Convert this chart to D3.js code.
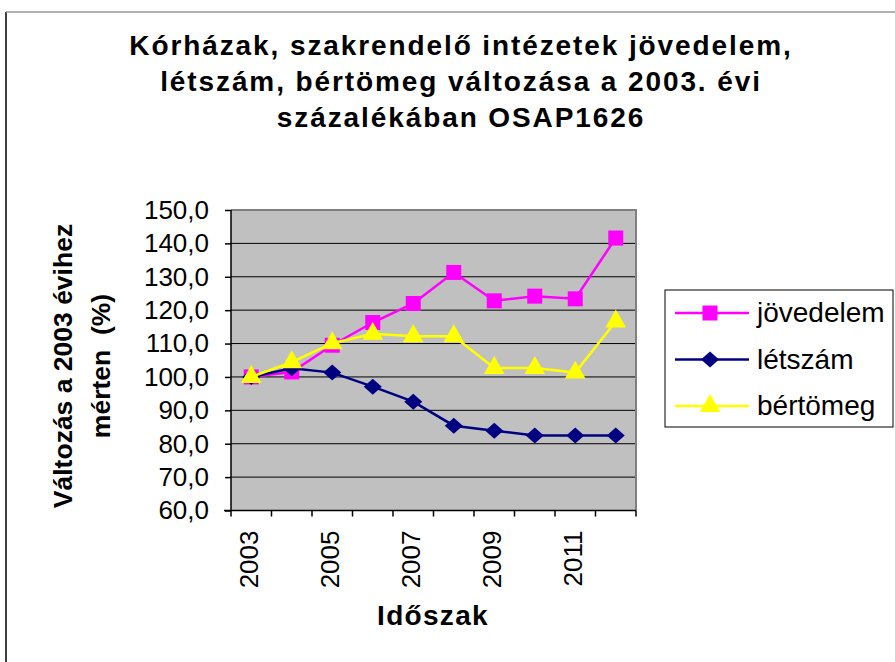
<!DOCTYPE html>
<html>
<head>
<meta charset="utf-8">
<script src="https://cdn.jsdelivr.net/npm/d3@7"></script>
<style>
  body { margin: 0; background: #fff; }
  svg { font-family: "Liberation Sans", Arial, sans-serif; }
  .grid line { stroke: #000; stroke-width: 1; }
  .axis path, .axis line { stroke: #000; stroke-width: 1.5; }
  .axis text { font-size: 26px; fill: #000; font-family: "Liberation Sans", Arial, sans-serif; }
</style>
</head>
<body>
<div id="chart"></div>
<script>
const years = ['2003', '2004', '2005', '2006', '2007', '2008', '2009', '2010', '2011', '2012']
const yearLabels = ['2003', '2005', '2007', '2009', '2011']
const jovedelem = [100.0, 101.5, 109.5, 116.3, 122.0, 131.3, 122.8, 124.2, 123.4, 141.6]
const letszam = [100.0, 102.6, 101.3, 97.1, 92.6, 85.4, 83.9, 82.5, 82.5, 82.5]
const bertomeg = [100.0, 104.4, 110.1, 112.9, 112.2, 112.2, 102.7, 102.7, 101.3, 116.6]
const yTicks = [60, 70, 80, 90, 100, 110, 120, 130, 140, 150]
const titleLines = ['Kórházak, szakrendelő intézetek jövedelem,', 'létszám, bértömeg változása a 2003. évi', 'százalékában OSAP1626']

// wide diamond like the spreadsheet marker
const wideDiamond = {
  draw(ctx, size) {
    const w = 9, h = 8
    ctx.moveTo(0, -h)
    ctx.lineTo(w, 0)
    ctx.lineTo(0, h)
    ctx.lineTo(-w, 0)
    ctx.closePath()
  }
}

const series = [
  { name: 'jövedelem', values: jovedelem, color: '#FF00FF', symbol: d3.symbolSquare, size: 225 },
  { name: 'létszám', values: letszam, color: '#000080', symbol: wideDiamond, size: 130 },
  { name: 'bértömeg', values: bertomeg, color: '#FFFF00', symbol: d3.symbolTriangle, size: 185 }
]

const dms = { width: 895, height: 662, plot: { left: 231, top: 210, right: 636, bottom: 510.5 } }

const svg = d3.select('#chart').append('svg')
    .attr('width', dms.width)
    .attr('height', dms.height)

// outer frame (only left and top edges visible)
svg.append('line').attr('x1', 6).attr('y1', 12).attr('x2', 6).attr('y2', dms.height)
    .attr('stroke', '#000').attr('stroke-width', 1.5)
svg.append('line').attr('x1', 6).attr('y1', 12).attr('x2', dms.width).attr('y2', 12)
    .attr('stroke', '#999').attr('stroke-width', 1.5)

// title
svg.append('text')
    .attr('text-anchor', 'middle')
    .attr('font-size', 28)
    .attr('font-weight', 'bold')
    .attr('letter-spacing', 1.9)
    .selectAll('tspan')
    .data(titleLines)
    .join('tspan')
    .attr('x', 461)
    .attr('y', (d, i) => 55 + i * 36)
    .text(d => d)

const x = d3.scaleBand()
    .domain(years)
    .range([dms.plot.left, dms.plot.right])

const y = d3.scaleLinear()
    .domain([60, 150])
    .range([dms.plot.bottom, dms.plot.top])

// plot background
svg.append('rect')
    .attr('x', dms.plot.left)
    .attr('y', dms.plot.top)
    .attr('width', dms.plot.right - dms.plot.left)
    .attr('height', dms.plot.bottom - dms.plot.top)
    .attr('fill', '#C0C0C0')

svg.append('g')
    .attr('class', 'grid')
    .selectAll('line')
    .data(yTicks.slice(1, -1))
    .join('line')
    .attr('x1', dms.plot.left)
    .attr('x2', dms.plot.right)
    .attr('y1', d => y(d))
    .attr('y2', d => y(d))

// gray border on top and right
svg.append('path')
    .attr('d', `M${dms.plot.left},${dms.plot.top}H${dms.plot.right}V${dms.plot.bottom}`)
    .attr('fill', 'none')
    .attr('stroke', '#808080')
    .attr('stroke-width', 2)

// y axis
const yAxis = svg.append('g')
    .attr('class', 'axis')
    .attr('transform', `translate(${dms.plot.left},0)`)
    .call(d3.axisLeft(y)
        .tickValues(yTicks)
        .tickSize(6)
        .tickPadding(16)
        .tickFormat(d => d3.format('.1f')(d).replace('.', ',')))
yAxis.select('.domain').attr('d', `M0,${dms.plot.top}V${dms.plot.bottom}`)

// x axis: ticks at band edges
const xAxis = svg.append('g')
    .attr('class', 'axis')
    .attr('transform', `translate(0,${dms.plot.bottom})`)
xAxis.append('line')
    .attr('x1', dms.plot.left - 7).attr('x2', dms.plot.right)
xAxis.selectAll('.tick-edge')
    .data(years.concat(['end']))
    .join('line')
    .attr('class', 'tick-edge')
    .attr('x1', (d, i) => dms.plot.left + i * x.bandwidth())
    .attr('x2', (d, i) => dms.plot.left + i * x.bandwidth())
    .attr('y1', 0)
    .attr('y2', 6)
xAxis.selectAll('text')
    .data(yearLabels)
    .join('text')
    .attr('transform', d => `translate(${x(d) + x.bandwidth() / 2 + 7},20) rotate(-90)`)
    .attr('text-anchor', 'end')
    .text(d => d)

// axis titles
svg.append('text')
    .attr('x', 433)
    .attr('y', 625)
    .attr('text-anchor', 'middle')
    .attr('font-size', 28)
    .attr('font-weight', 'bold')
    .attr('letter-spacing', 1.3)
    .text('Időszak')

svg.append('text')
    .attr('transform', 'translate(0,366) rotate(-90)')
    .attr('text-anchor', 'middle')
    .attr('font-size', 26.5)
    .attr('font-weight', 'bold')
    .selectAll('tspan')
    .data(['Változás a 2003 évihez', 'mérten  (%)'])
    .join('tspan')
    .attr('x', 0)
    .attr('y', (d, i) => 72 + i * 38)
    .attr('xml:space', 'preserve')
    .text(d => d)

// lines and markers (later series on top)
const line = d3.line()
    .x((d, i) => x(years[i]) + x.bandwidth() / 2)
    .y(d => y(d))

series.forEach(s => {
  svg.append('path')
      .datum(s.values)
      .attr('d', line)
      .attr('fill', 'none')
      .attr('stroke', s.color)
      .attr('stroke-width', 2.5)
  svg.append('g')
      .selectAll('path')
      .data(s.values)
      .join('path')
      .attr('d', d3.symbol().type(s.symbol).size(s.size))
      .attr('transform', (d, i) => `translate(${x(years[i]) + x.bandwidth() / 2},${y(d)})`)
      .attr('fill', s.color)
})

// legend
const legend = svg.append('g')
legend.append('rect')
    .attr('x', 665)
    .attr('y', 290)
    .attr('width', 228)
    .attr('height', 137)
    .attr('fill', '#fff')
    .attr('stroke', '#000')
    .attr('stroke-width', 1)

const items = legend.selectAll('g')
    .data(series)
    .join('g')
    .attr('transform', (d, i) => `translate(0,${313 + i * 46.5})`)
items.append('line')
    .attr('x1', 675).attr('x2', 749)
    .attr('stroke', d => d.color)
    .attr('stroke-width', 2.5)
items.append('path')
    .attr('d', d => d3.symbol().type(d.symbol).size(d.size)())
    .attr('transform', 'translate(710,0)')
    .attr('fill', d => d.color)
items.append('text')
    .attr('x', 757)
    .attr('y', 9)
    .attr('font-size', 28)
    .text(d => d.name)
</script>
</body>
</html>
